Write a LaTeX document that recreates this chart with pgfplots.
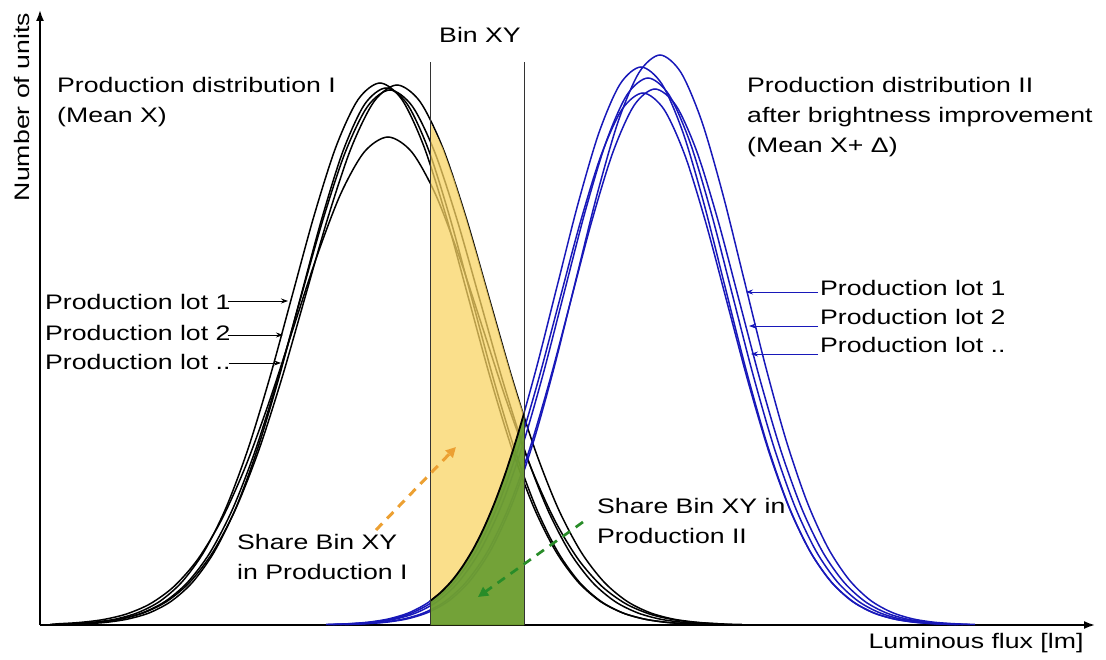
\documentclass[border=0pt]{standalone}
\usepackage{fontspec}
\setmainfont{Liberation Sans}[FakeStretch=1.27]
\usepackage{pgfplots}
\pgfplotsset{compat=1.18}
\usetikzlibrary{arrows.meta}
\definecolor{bluecurve}{RGB}{24,24,185}
\definecolor{yellowfill}{RGB}{248,212,100}
\definecolor{greenfill}{RGB}{92,152,42}
\definecolor{orangearrow}{RGB}{236,160,50}
\definecolor{greenarrow}{RGB}{40,140,40}
\tikzset{lbl/.style={font=\fontsize{21}{30}\selectfont, inner sep=0pt, text=black}}
\begin{document}
\begin{tikzpicture}
\begin{axis}[
  x=1pt, y=1pt,
  xmin=40, xmax=1095, ymin=0, ymax=615,
  axis lines=left,
  axis line style={line width=1.8pt, -{Latex[length=11pt,width=8pt]}},
  xtick=\empty, ytick=\empty,
  clip=false,
  enlargelimits=false,
]
% Production distribution I (black curves)
\addplot[black, line width=1.5pt, smooth] coordinates {(50,0.5)(72,1.2)(94,2.8)(116,6.0)(138,12.4)(160,23.8)(182,43.1)(204,73.3)(226,117.2)(248,176.0)(270,248.1)(292,328.7)(314,409.1)(336,478.3)(358,525.3)(380,542)(402,525.3)(424,478.3)(446,409.1)(468,328.7)(490,248.1)(512,176.0)(534,117.2)(556,73.3)(578,43.1)(600,23.8)(622,12.4)(644,6.0)(666,2.8)(688,1.2)(710,0.5)};
\addplot[black, line width=1.5pt, smooth] coordinates {(52,0.5)(75,1.2)(98,2.8)(121,6.0)(144,12.3)(167,23.7)(190,43.0)(213,73.1)(236,116.8)(259,175.3)(282,247.2)(305,327.5)(328,407.6)(351,476.6)(374,523.4)(397,540)(420,523.4)(443,476.6)(466,407.6)(489,327.5)(512,247.2)(535,175.3)(558,116.8)(581,73.1)(604,43.0)(627,23.7)(650,12.3)(673,6.0)(696,2.8)(719,1.2)(742,0.5)};
\addplot[black, line width=1.5pt, smooth] coordinates {(52.5,0.5)(75,1.2)(97.5,2.7)(120,5.9)(142.5,12.2)(165,23.5)(187.5,42.6)(210,72.4)(232.5,115.7)(255,173.7)(277.5,244.9)(300,324.5)(322.5,403.8)(345,472.1)(367.5,518.5)(390,535)(412.5,518.5)(435,472.1)(457.5,403.8)(480,324.5)(502.5,244.9)(525,173.7)(547.5,115.7)(570,72.4)(592.5,42.6)(615,23.5)(637.5,12.2)(660,5.9)(682.5,2.7)(705,1.2)(727.5,0.5)};
\addplot[black, line width=1.5pt, smooth] coordinates {(55.5,1.1)(79.25,2.5)(103,5.4)(126.75,11.1)(150.5,21.4)(174.25,38.8)(198,66.0)(221.75,105.6)(245.5,158.5)(269.25,223.4)(293,296.0)(316.75,368.3)(340.5,430.7)(364.25,473.0)(388,488)(411.75,473.0)(435.5,430.7)(459.25,368.3)(483,296.0)(506.75,223.4)(530.5,158.5)(554.25,105.6)(578,66.0)(601.75,38.8)(625.5,21.4)(649.25,11.1)(673,5.4)(696.75,2.5)(720.5,1.1)};
\addplot[black, line width=1.5pt, smooth] coordinates {(63.5,0.5)(85,1.2)(106.5,2.7)(128,6.0)(149.5,12.2)(171,23.6)(192.5,42.7)(214,72.7)(235.5,116.2)(257,174.4)(278.5,245.8)(300,325.7)(321.5,405.3)(343,473.9)(364.5,520.5)(386,537)(407.5,520.5)(429,473.9)(450.5,405.3)(472,325.7)(493.5,245.8)(515,174.4)(536.5,116.2)(558,72.7)(579.5,42.7)(601,23.6)(622.5,12.2)(644,6.0)(665.5,2.7)(687,1.2)(708.5,0.5)};
% Production distribution II (blue curves)
\addplot[bluecurve, line width=1.5pt, smooth] coordinates {(345,0.5)(366,1.3)(387,2.9)(408,6.3)(429,13.0)(450,25.0)(471,45.4)(492,77.1)(513,123.3)(534,185.1)(555,260.9)(576,345.7)(597,430.2)(618,503.0)(639,552.4)(660,570)(681,552.4)(702,503.0)(723,430.2)(744,345.7)(765,260.9)(786,185.1)(807,123.3)(828,77.1)(849,45.4)(870,25.0)(891,13.0)(912,6.3)(933,2.9)(954,1.3)(975,0.5)};
\addplot[bluecurve, line width=1.5pt, smooth] coordinates {(326,0.5)(347,1.2)(368,2.8)(389,6.2)(410,12.7)(431,24.5)(452,44.4)(473,75.5)(494,120.7)(515,181.2)(536,255.5)(557,338.4)(578,421.2)(599,492.4)(620,540.8)(641,558)(662,540.8)(683,492.4)(704,421.2)(725,338.4)(746,255.5)(767,181.2)(788,120.7)(809,75.5)(830,44.4)(851,24.5)(872,12.7)(893,6.2)(914,2.8)(935,1.2)(956,0.5)};
\addplot[bluecurve, line width=1.5pt, smooth] coordinates {(333,0.5)(354,1.2)(375,2.8)(396,6.1)(417,12.5)(438,24.0)(459,43.5)(480,74.0)(501,118.3)(522,177.6)(543,250.4)(564,331.8)(585,412.9)(606,482.7)(627,530.2)(648,547)(669,530.2)(690,482.7)(711,412.9)(732,331.8)(753,250.4)(774,177.6)(795,118.3)(816,74.0)(837,43.5)(858,24.0)(879,12.5)(900,6.1)(921,2.8)(942,1.2)(963,0.5)};
\addplot[bluecurve, line width=1.5pt, smooth] coordinates {(340,0.5)(361,1.2)(382,2.7)(403,5.9)(424,12.2)(445,23.5)(466,42.7)(487,72.5)(508,115.9)(529,174.0)(550,245.4)(571,325.1)(592,404.6)(613,473.0)(634,519.5)(655,536)(676,519.5)(697,473.0)(718,404.6)(739,325.1)(760,245.4)(781,174.0)(802,115.9)(823,72.5)(844,42.7)(865,23.5)(886,12.2)(907,5.9)(928,2.7)(949,1.2)(970,0.5)};
\addplot[bluecurve, line width=1.5pt, smooth] coordinates {(328,0.5)(349,1.2)(370,2.7)(391,5.9)(412,12.1)(433,23.4)(454,42.3)(475,72.0)(496,115.1)(517,172.7)(538,243.6)(559,322.7)(580,401.6)(601,469.5)(622,515.6)(643,532)(664,515.6)(685,469.5)(706,401.6)(727,322.7)(748,243.6)(769,172.7)(790,115.1)(811,72.0)(832,42.3)(853,23.4)(874,12.1)(895,5.9)(916,2.7)(937,1.2)(958,0.5)};
% Share Bin XY in Production I (yellow)
\addplot[draw=none, fill=yellowfill, fill opacity=0.75] coordinates {(430,0)(430,503.1)(443,476.6)(454.5,444.3)(466,407.6)(477.5,368.3)(489,327.5)(500.5,286.8)(512,247.2)(518,227.4)(524,210)(524,0)} -- cycle;
% Share Bin XY in Production II (green)
\addplot[draw=none, fill=greenfill, fill opacity=0.85] coordinates {(430,0)(430,23.9)(441,32.8)(452,44.4)(462,57.7)(473,75.5)(483.5,96.2)(494,120.7)(504.5,149.0)(515,181.2)(524,211.5)(524,0)} -- cycle;
\addplot[black, line width=1.8pt, smooth] coordinates {(430,23.9)(441,32.8)(452,44.4)(462,57.7)(473,75.5)(483.5,96.2)(494,120.7)(504.5,149.0)(515,181.2)(524,211.5)};
% Bin XY limits
\addplot[black!80, line width=1pt] coordinates {(430,0)(430,563)};
\addplot[black!80, line width=1pt] coordinates {(524,0)(524,563)};
% Texts
\node[lbl, rotate=90] at (axis cs:22,518) {Number of units};
\node[lbl] at (axis cs:976,-18) {Luminous flux [lm]};
\node[lbl] at (axis cs:480,590) {Bin XY};
\node[lbl, anchor=north west, align=left] at (axis cs:57,548) {Production distribution I\\(Mean X)};
\node[lbl, anchor=north west, align=left] at (axis cs:747,548) {Production distribution II\\after brightness improvement\\(Mean X+ Δ)};
\node[lbl, anchor=north west, align=left] at (axis cs:237,91) {Share Bin XY\\in Production I};
\node[lbl, anchor=north west, align=left] at (axis cs:597,127) {Share Bin XY in\\Production II};
\node[lbl, anchor=west] (l1) at (axis cs:45,323) {Production lot 1};
\node[lbl, anchor=west] (l2) at (axis cs:45,292) {Production lot 2};
\node[lbl, anchor=west] (l3) at (axis cs:45,263) {Production lot ..};
\node[lbl, anchor=west] at (axis cs:820,337) {Production lot 1};
\node[lbl, anchor=west] at (axis cs:820,308) {Production lot 2};
\node[lbl, anchor=west] at (axis cs:820,280) {Production lot ..};
% Pointer arrows
\draw[black, line width=0.8pt, -{Stealth[length=7pt,width=5pt]}] ([shift={(-3pt,1pt)}]l1.east) -- (axis cs:288,324);
\draw[black, line width=0.8pt, -{Stealth[length=7pt,width=5pt]}] ([shift={(-3pt,-2pt)}]l2.east) -- (axis cs:283,290);
\draw[black, line width=0.8pt, -{Stealth[length=7pt,width=5pt]}] ([shift={(-2pt,-1pt)}]l3.east) -- (axis cs:281,262);
\draw[bluecurve, line width=0.8pt, -{Stealth[length=7pt,width=5pt]}] (axis cs:818,333) -- (axis cs:746,333);
\draw[bluecurve, line width=0.8pt, -{Stealth[length=7pt,width=5pt]}] (axis cs:818,299) -- (axis cs:749,299);
\draw[bluecurve, line width=0.8pt, -{Stealth[length=7pt,width=5pt]}] (axis cs:818,271) -- (axis cs:751,271);
\draw[orangearrow, line width=3pt, dash pattern=on 9pt off 7pt, -{Triangle[length=10pt,width=10pt]}] (axis cs:376,95) -- (axis cs:456,178);
\draw[greenarrow, line width=2.7pt, dash pattern=on 9pt off 7pt, -{Triangle[length=10pt,width=10pt]}] (axis cs:583,103) -- (axis cs:478,28);
\end{axis}
\pgfresetboundingbox
\path (-40pt,-34pt) rectangle (1066pt,625pt);
\end{tikzpicture}
\end{document}
